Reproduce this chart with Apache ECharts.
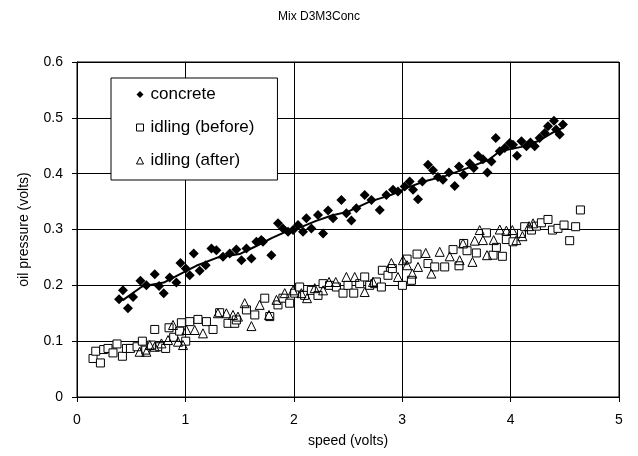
<!DOCTYPE html>
<html>
<head>
<meta charset="utf-8">
<script src="https://cdn.jsdelivr.net/npm/echarts@6/dist/echarts.min.js"></script>
<style>
html,body{margin:0;padding:0;background:#fff;}
#c{width:638px;height:456px;}
</style>
</head>
<body>
<div id="c"></div>
<script>
var chartTitle = 'Mix D3M3Conc';
var xAxisName = 'speed (volts)';
var yAxisName = 'oil pressure (volts)';
var seriesNames = ['concrete', 'idling (before)', 'idling (after)'];

var concrete = [
[0.424,0.191],[0.388,0.175],[0.47,0.159],[0.517,0.179],[0.585,0.208],[0.64,0.200],[0.717,0.220],[0.757,0.199],
[0.80,0.186],[0.855,0.214],[0.917,0.205],[0.954,0.240],[1.003,0.230],[1.04,0.218],[1.077,0.257],[1.132,0.226],
[1.187,0.236],[1.24,0.266],[1.286,0.263],[1.347,0.251],[1.409,0.257],[1.47,0.264],[1.517,0.245],[1.563,0.266],
[1.609,0.248],[1.655,0.278],[1.70,0.281],[1.716,0.278],[1.793,0.254],[1.854,0.311],[1.90,0.302],[1.947,0.296],
[1.993,0.299],[2.039,0.308],[2.085,0.296],[2.116,0.320],[2.162,0.302],[2.223,0.326],[2.27,0.293],[2.316,0.334],
[2.362,0.320],[2.439,0.353],[2.485,0.329],[2.531,0.316],[2.577,0.338],[2.654,0.362],[2.716,0.353],[2.793,0.335],
[2.854,0.362],[2.915,0.371],[2.961,0.368],[3.023,0.377],[3.069,0.386],[3.10,0.371],[3.146,0.354],[3.186,0.386],
[3.238,0.416],[3.284,0.406],[3.33,0.394],[3.376,0.389],[3.432,0.402],[3.484,0.378],[3.524,0.413],[3.567,0.398],
[3.623,0.418],[3.66,0.410],[3.70,0.432],[3.745,0.426],[3.786,0.402],[3.823,0.422],[3.863,0.464],[3.90,0.440],
[3.946,0.446],[3.992,0.455],[4.022,0.452],[4.059,0.432],[4.10,0.458],[4.146,0.449],[4.183,0.456],[4.222,0.449],
[4.268,0.464],[4.315,0.473],[4.345,0.485],[4.40,0.495],[4.42,0.479],[4.453,0.470],[4.483,0.488]
];

var idlingBefore = [
[0.148,0.069],[0.216,0.061],[0.173,0.082],[0.246,0.085],[0.286,0.087],[0.332,0.079],[0.369,0.095],[0.419,0.073],
[0.456,0.087],[0.493,0.087],[0.554,0.090],[0.603,0.100],[0.634,0.084],[0.717,0.121],[0.686,0.093],[0.763,0.090],
[0.818,0.087],[0.849,0.124],[0.892,0.107],[0.947,0.118],[0.963,0.133],[1.003,0.100],[1.04,0.135],[1.116,0.139],
[1.194,0.135],[1.255,0.121],[1.316,0.151],[1.393,0.132],[1.455,0.132],[1.47,0.138],[1.563,0.156],[1.64,0.147],
[1.732,0.177],[1.778,0.144],[1.854,0.165],[1.90,0.177],[1.962,0.168],[2.008,0.186],[2.054,0.197],[2.10,0.182],
[2.162,0.191],[2.223,0.182],[2.27,0.203],[2.33,0.200],[2.393,0.197],[2.454,0.186],[2.50,0.200],[2.553,0.186],
[2.608,0.203],[2.654,0.215],[2.70,0.200],[2.746,0.203],[2.762,0.206],[2.808,0.197],[2.817,0.227],[2.869,0.218],
[2.909,0.230],[3.002,0.200],[3.045,0.247],[3.085,0.209],[3.137,0.256],[3.238,0.239],[3.30,0.233],[3.392,0.233],
[3.469,0.264],[3.524,0.235],[3.567,0.275],[3.598,0.262],[3.684,0.258],[3.777,0.294],[3.838,0.254],[3.869,0.268],
[3.924,0.252],[3.961,0.282],[4.022,0.278],[4.10,0.293],[4.13,0.305],[4.192,0.299],[4.238,0.306],[4.284,0.312],
[4.345,0.318],[4.386,0.299],[4.437,0.302],[4.493,0.308],[4.545,0.280],[4.60,0.305],[4.644,0.335]
];

var idlingAfter = [
[0.578,0.081],[0.64,0.081],[0.671,0.093],[0.717,0.090],[0.779,0.096],[0.84,0.102],[0.886,0.129],[0.932,0.099],
[0.978,0.093],[1.009,0.120],[1.086,0.120],[1.162,0.114],[1.30,0.150],[1.378,0.150],[1.439,0.147],[1.485,0.144],
[1.547,0.168],[1.609,0.127],[1.685,0.165],[1.771,0.147],[1.84,0.174],[1.916,0.186],[1.993,0.191],[2.07,0.186],
[2.122,0.177],[2.193,0.195],[2.27,0.191],[2.325,0.206],[2.387,0.206],[2.485,0.215],[2.562,0.215],[2.654,0.188],
[2.731,0.206],[2.90,0.240],[2.961,0.215],[3.007,0.245],[3.045,0.236],[3.094,0.221],[3.146,0.233],[3.217,0.258],
[3.269,0.221],[3.346,0.260],[3.438,0.252],[3.53,0.245],[3.561,0.275],[3.648,0.242],[3.669,0.280],[3.715,0.299],
[3.745,0.281],[3.782,0.254],[3.844,0.281],[3.90,0.300],[3.961,0.298],[4.016,0.299],[4.053,0.281],[4.109,0.288],
[4.17,0.306],[4.207,0.311]
];

var concreteTrend = [
[0.42,0.173],[0.6,0.198],[0.8,0.205],[1.0,0.225],[1.1,0.235],[1.3,0.250],[1.5,0.256],[1.65,0.270],[1.8,0.285],
[1.95,0.298],[2.05,0.303],[2.2,0.315],[2.35,0.325],[2.5,0.332],[2.7,0.350],[2.9,0.362],[3.05,0.375],[3.2,0.386],
[3.4,0.396],[3.6,0.410],[3.8,0.425],[3.9,0.440],[4.1,0.448],[4.25,0.458],[4.4,0.475],[4.48,0.482]
];

var xTicks = {min: 0, max: 5, interval: 1};
var yTicks = {min: 0, max: 0.6, interval: 0.1};

var FONT = 'Liberation Sans, Arial, sans-serif';
var chart = echarts.init(document.getElementById('c'), null, {renderer: 'canvas'});
chart.setOption({
  backgroundColor: '#fff',
  animation: false,
  title: {
    text: chartTitle, left: 'center', top: 6,
    textStyle: {fontFamily: FONT, fontSize: 12, fontWeight: 'normal', color: '#000'}
  },
  legend: {
    data: [
      {name: seriesNames[0], icon: 'diamond', itemStyle: {color: '#000', borderWidth: 0}},
      {name: seriesNames[1], icon: 'rect', itemStyle: {color: '#fff', borderColor: '#000', borderWidth: 1}},
      {name: seriesNames[2], icon: 'triangle', itemStyle: {color: '#fff', borderColor: '#000', borderWidth: 1}}
    ],
    orient: 'vertical', left: 111, top: 78,
    padding: [8, 23, 11, 25],
    itemWidth: 7, itemHeight: 7, itemGap: 16,
    borderColor: '#000', borderWidth: 1, backgroundColor: '#fff',
    textStyle: {fontFamily: FONT, fontSize: 17, color: '#000', padding: [0,0,0,2]},
    selectedMode: false
  },
  grid: {left: 77, right: 19, top: 62, bottom: 59, show: true, borderColor: '#000', borderWidth: 1},
  xAxis: {
    type: 'value', min: xTicks.min, max: xTicks.max, interval: xTicks.interval,
    name: xAxisName, nameLocation: 'middle', nameGap: 37,
    nameTextStyle: {fontFamily: FONT, fontSize: 14, color: '#000'},
    axisLine: {show: true, lineStyle: {color: '#000'}},
    axisTick: {show: true, length: 5, lineStyle: {color: '#000'}},
    axisLabel: {fontFamily: FONT, fontSize: 14, color: '#000', margin: 16},
    splitLine: {show: true, lineStyle: {color: '#000', width: 1}}
  },
  yAxis: {
    type: 'value', min: yTicks.min, max: yTicks.max, interval: yTicks.interval,
    name: yAxisName, nameLocation: 'middle', nameGap: 46, nameRotate: 90,
    nameTextStyle: {fontFamily: FONT, fontSize: 14, color: '#000'},
    axisLine: {show: true, lineStyle: {color: '#000'}},
    axisTick: {show: true, length: 5, lineStyle: {color: '#000'}},
    axisLabel: {fontFamily: FONT, fontSize: 14, color: '#000', margin: 14},
    splitLine: {show: true, lineStyle: {color: '#000', width: 1}}
  },
  series: [
    {
      name: seriesNames[1], type: 'scatter', data: idlingBefore,
      symbol: 'rect', symbolSize: 8,
      itemStyle: {color: '#fff', borderColor: '#000', borderWidth: 1, opacity: 1}
    },
    {
      name: seriesNames[2], type: 'scatter', data: idlingAfter,
      symbol: 'triangle', symbolSize: 9,
      itemStyle: {color: 'rgba(255,255,255,0)', borderColor: '#000', borderWidth: 1, opacity: 1}
    },
    {
      name: seriesNames[0], type: 'scatter', data: concrete,
      symbol: 'diamond', symbolSize: 10,
      itemStyle: {color: '#000', opacity: 1}
    },
    {
      name: 'trend', type: 'line', data: concreteTrend,
      showSymbol: false, symbol: 'none', smooth: false,
      lineStyle: {color: '#000', width: 2}, z: 5
    }
  ]
});
</script>
</body>
</html>
